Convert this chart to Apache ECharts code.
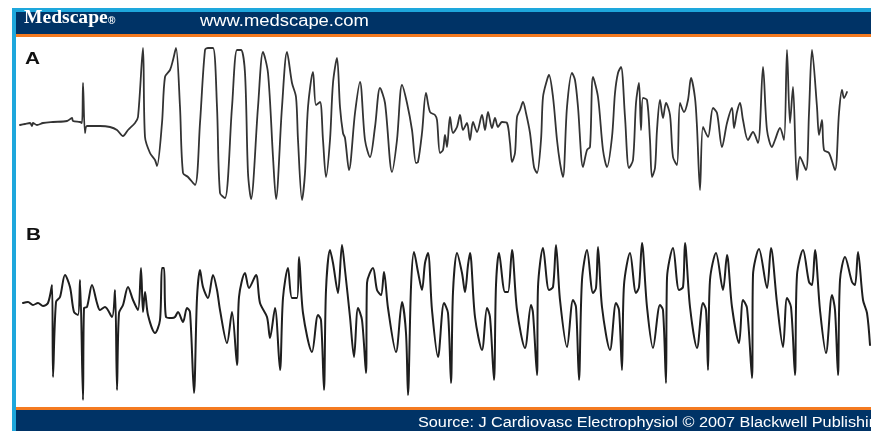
<!DOCTYPE html>
<html>
<head>
<meta charset="utf-8">
<script src="https://cdn.jsdelivr.net/npm/echarts@6/dist/echarts.min.js"></script>
<style>
html,body{margin:0;padding:0;background:#fff;}
#chart{width:871px;height:431px;}
</style>
</head>
<body>
<div id="chart"></div>
<script>
// Trace readings: [time, deflection] (deflection measured downward in picture units)
var traceA = [[20,125],[25,124],[30,123],[32,126],[33,123],[37,125],[43,123],[53,122],[67,121],[72,118],[73,121],[80,122],[82,123],[83,83],[85,133],[87,126],[100,126],[110,127],[117,130],[123,136],[128,130],[135,123],[138,117],[143,48],[145,137],[150,153],[155,160],[157,166],[162,123],[165,77],[170,70],[173,60],[176,48],[180,107],[183,173],[188,177],[195,185],[200,123],[205,50],[208,48],[213,48],[217,107],[220,193],[225,198],[232,107],[237,50],[241,50],[245,73],[248,173],[251,199],[258,107],[263,52],[268,73],[273,157],[276,199],[282,107],[287,52],[292,83],[296,97],[298,140],[302,200],[305,173],[308,107],[313,72],[316,105],[320,102],[323,140],[326,177],[330,140],[333,83],[337,58],[340,107],[343,133],[345,138],[349,170],[355,113],[360,82],[365,140],[370,157],[375,127],[380,88],[385,103],[392,172],[397,140],[402,85],[407,103],[412,130],[416,163],[418,162],[422,133],[426,93],[430,112],[435,115],[437,120],[440,153],[443,150],[445,135],[447,147],[450,117],[453,133],[457,127],[460,115],[463,130],[467,123],[470,140],[473,122],[477,132],[482,115],[485,130],[488,112],[492,128],[495,118],[498,127],[502,122],[507,123],[510,143],[512,162],[515,153],[517,117],[520,110],[523,102],[526,113],[530,133],[534,167],[537,173],[541,140],[543,97],[547,80],[549,75],[553,97],[557,140],[560,163],[563,177],[567,107],[572,73],[575,80],[578,107],[583,167],[587,150],[590,147],[593,77],[598,97],[603,150],[607,167],[612,137],[615,93],[618,73],[621,67],[625,117],[629,168],[633,160],[636,103],[639,83],[641,130],[643,98],[647,100],[650,140],[652,177],[655,168],[657,130],[660,100],[663,118],[666,103],[670,115],[673,157],[677,165],[680,103],[684,112],[688,100],[691,78],[695,98],[697,127],[700,190],[703,127],[708,137],[713,108],[717,113],[722,147],[727,123],[732,108],[734,128],[737,112],[740,103],[743,120],[748,140],[753,132],[758,143],[763,67],[767,130],[772,147],[775,140],[780,128],[784,140],[787,50],[790,123],[793,87],[797,180],[800,157],[806,170],[809,113],[812,50],[817,107],[819,135],[822,120],[824,150],[829,153],[835,170],[839,113],[842,90],[844,98],[847,92]];

var traceB = [[23,303],[28,302],[33,305],[38,303],[43,306],[48,303],[52,285],[53,377],[56,302],[60,297],[65,275],[70,287],[74,312],[78,315],[80,280],[83,400],[84,308],[87,307],[92,285],[97,303],[100,310],[105,307],[112,317],[115,290],[117,390],[119,313],[123,305],[128,287],[133,300],[138,310],[141,268],[143,312],[145,292],[148,315],[155,333],[160,320],[162,268],[164,268],[166,317],[172,318],[175,317],[178,312],[183,322],[187,308],[190,312],[194,393],[197,298],[200,270],[203,287],[208,298],[213,275],[217,290],[220,310],[227,343],[232,312],[237,365],[239,297],[245,273],[249,288],[256,275],[260,303],[267,317],[270,338],[275,308],[280,370],[283,298],[288,268],[292,298],[297,298],[299,257],[303,313],[312,352],[318,315],[321,320],[324,390],[326,290],[330,250],[333,263],[338,293],[342,245],[345,270],[350,317],[354,357],[358,308],[362,320],[366,373],[367,283],[373,268],[377,290],[381,295],[384,272],[388,308],[396,352],[402,302],[406,333],[408,395],[411,287],[414,252],[418,272],[422,290],[425,263],[428,253],[432,310],[438,357],[444,303],[448,313],[451,383],[453,292],[457,253],[462,273],[465,292],[468,265],[470,253],[475,317],[482,350],[487,308],[490,317],[494,380],[496,285],[499,253],[505,292],[508,292],[512,250],[517,310],[525,348],[531,305],[533,313],[537,375],[538,287],[543,248],[549,290],[553,287],[556,245],[560,300],[567,347],[573,300],[576,307],[579,380],[582,280],[587,250],[593,293],[596,288],[598,247],[602,307],[610,350],[616,303],[619,310],[622,370],[624,285],[630,253],[636,293],[639,287],[642,243],[647,307],[653,348],[660,305],[663,310],[666,383],[667,278],[673,248],[679,290],[683,287],[685,243],[690,307],[697,348],[703,303],[706,310],[708,370],[710,280],[716,253],[723,290],[727,255],[732,307],[739,343],[743,300],[747,308],[752,378],[753,275],[759,249],[767,288],[771,248],[777,303],[783,347],[787,298],[791,307],[795,375],[797,275],[803,250],[809,282],[812,285],[815,250],[820,310],[826,353],[832,295],[835,310],[838,375],[840,280],[845,257],[852,282],[855,285],[858,252],[863,300],[867,313],[870,345]];

var panelLabels = ['A', 'B'];
var headerBrand = 'Medscape';
var headerUrl = 'www.medscape.com';
var footerSource = 'Source: J Cardiovasc Electrophysiol \u00A9 2007 Blackwell Publishing';

var chart = echarts.init(document.getElementById('chart'), null, {renderer: 'canvas'});
var NAVY = '#003366', BLUE = '#1ea7dc', ORANGE = '#f47a20';
var option = {
  backgroundColor: '#ffffff',
  animation: false,
  grid: {left: 0, right: 0, top: 0, bottom: 0},
  xAxis: {type: 'value', min: 0, max: 871, show: false},
  yAxis: {type: 'value', min: 0, max: 431, inverse: true, show: false},
  series: [
    {type: 'line', data: traceA, showSymbol: false, smooth: 0.3, clip: false,
     lineStyle: {color: '#333333', width: 1.8, join: 'round', cap: 'round'}, z: 2},
    {type: 'line', data: traceB, showSymbol: false, smooth: 0.3, clip: false,
     lineStyle: {color: '#1e1e1e', width: 2, join: 'round', cap: 'round'}, z: 2}
  ],
  graphic: [
    {type: 'rect', shape: {x: 12, y: 8, width: 859, height: 4}, style: {fill: BLUE}, z: 10},
    {type: 'rect', shape: {x: 12, y: 8, width: 4, height: 423}, style: {fill: BLUE}, z: 10},
    {type: 'rect', shape: {x: 16, y: 12, width: 855, height: 22}, style: {fill: NAVY}, z: 10},
    {type: 'rect', shape: {x: 16, y: 34, width: 855, height: 3}, style: {fill: ORANGE}, z: 10},
    {type: 'rect', shape: {x: 16, y: 407, width: 855, height: 3}, style: {fill: ORANGE}, z: 10},
    {type: 'rect', shape: {x: 16, y: 410, width: 855, height: 21}, style: {fill: NAVY}, z: 10},
    {type: 'text', x: 24, y: 28, scaleX: 1.03, z: 11,
     style: {text: headerBrand, fill: '#ffffff', font: 'bold 19px "Liberation Serif"', textVerticalAlign: 'bottom'}},
    {type: 'text', x: 108, y: 26, z: 11,
     style: {text: '\u00AE', fill: '#ffffff', font: 'bold 10px "Liberation Sans"', textVerticalAlign: 'bottom'}},
    {type: 'text', x: 200, y: 30, scaleX: 1.15, z: 11,
     style: {text: headerUrl, fill: '#ffffff', font: '16px "Liberation Sans"', textVerticalAlign: 'bottom'}},
    {type: 'text', x: 418, y: 430, scaleX: 1.16, z: 11,
     style: {text: footerSource, fill: '#ffffff', font: '14px "Liberation Sans"', textVerticalAlign: 'bottom'}},
    {type: 'text', x: 25, y: 68, scaleX: 1.3, z: 11,
     style: {text: panelLabels[0], fill: '#111111', font: 'bold 16px "Liberation Sans"', textVerticalAlign: 'bottom'}},
    {type: 'text', x: 26, y: 244, scaleX: 1.3, z: 11,
     style: {text: panelLabels[1], fill: '#111111', font: 'bold 16px "Liberation Sans"', textVerticalAlign: 'bottom'}}
  ]
};
chart.setOption(option);
</script>
</body>
</html>
